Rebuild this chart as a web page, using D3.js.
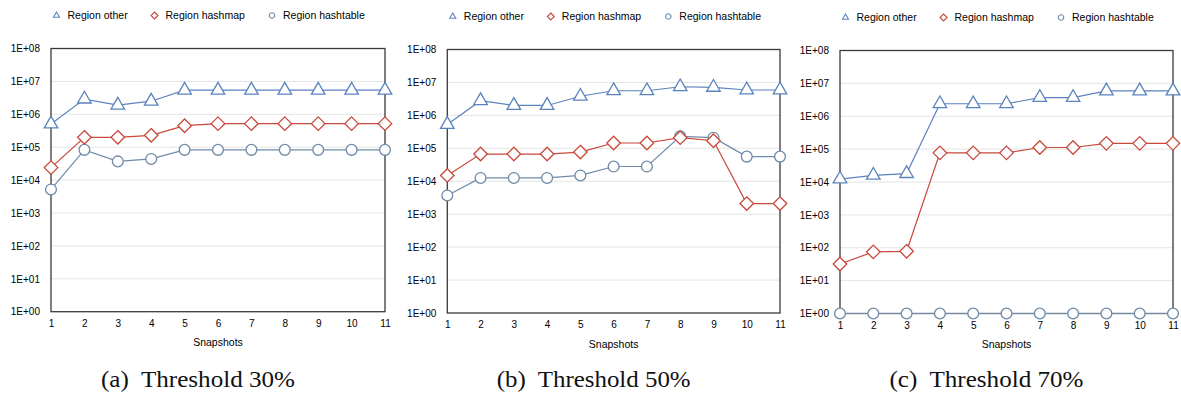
<!DOCTYPE html>
<html>
<head>
<meta charset="utf-8">
<script src="https://cdn.jsdelivr.net/npm/d3@7"></script>
<style>
  html, body { margin: 0; padding: 0; background: #fff; }
  svg { display: block; }
</style>
</head>
<body>
<svg id="chart" width="1181" height="394"></svg>
<script>
// Snapshot indices shared by all three panels
const snapshots = [1, 2, 3, 4, 5, 6, 7, 8, 9, 10, 11];
const yTicks = [1, 1e1, 1e2, 1e3, 1e4, 1e5, 1e6, 1e7, 1e8];
const yTickLabels = ["1E+00", "1E+01", "1E+02", "1E+03", "1E+04", "1E+05", "1E+06", "1E+07", "1E+08"];
const seriesNames = ["Region other", "Region hashmap", "Region hashtable"];
const captions = ["(a)  Threshold 30%", "(b)  Threshold 50%", "(c)  Threshold 70%"];
const xTitle = "Snapshots";

// Threshold 30%
const other30     = [5.1e5, 2.9e6, 1.9e6, 2.5e6, 5.4e6, 5.4e6, 5.4e6, 5.4e6, 5.4e6, 5.4e6, 5.4e6];
const hashmap30   = [2.4e4, 2.0e5, 2.0e5, 2.3e5, 4.5e5, 5.2e5, 5.2e5, 5.2e5, 5.2e5, 5.2e5, 5.2e5];
const hashtable30 = [5.2e3, 8.3e4, 3.7e4, 4.4e4, 8.3e4, 8.3e4, 8.3e4, 8.3e4, 8.3e4, 8.3e4, 8.3e4];

// Threshold 50%
const other50     = [5.3e5, 2.8e6, 2.0e6, 2.0e6, 3.8e6, 5.6e6, 5.6e6, 7.4e6, 7.1e6, 5.9e6, 5.9e6];
const hashmap50   = [1.5e4, 6.7e4, 6.7e4, 6.7e4, 7.7e4, 1.45e5, 1.45e5, 2.1e5, 1.7e5, 2.1e3, 2.1e3];
const hashtable50 = [3.7e3, 1.26e4, 1.26e4, 1.26e4, 1.5e4, 2.8e4, 2.8e4, 2.3e5, 2.1e5, 5.6e4, 5.6e4];

// Threshold 70%
const other70     = [1.23e4, 1.6e4, 1.8e4, 2.4e6, 2.4e6, 2.4e6, 3.7e6, 3.7e6, 5.9e6, 5.9e6, 5.9e6];
const hashmap70   = [32, 75, 78, 7.7e4, 7.7e4, 7.7e4, 1.12e5, 1.12e5, 1.5e5, 1.5e5, 1.5e5];
const hashtable70 = [1, 1, 1, 1, 1, 1, 1, 1, 1, 1, 1];

const panels = [
  { other: other30, hashmap: hashmap30, hashtable: hashtable30, caption: captions[0],
    box: { left: 51, right: 385, top: 48.5, bottom: 311.7 } },
  { other: other50, hashmap: hashmap50, hashtable: hashtable50, caption: captions[1],
    box: { left: 447.3, right: 780, top: 49.5, bottom: 313 } },
  { other: other70, hashmap: hashmap70, hashtable: hashtable70, caption: captions[2],
    box: { left: 840, right: 1173, top: 50.5, bottom: 313.5 } }
];

const colors = { other: "#5a83bd", hashmap: "#c8483a", hashtable: "#6e8aa8" };
const sans = "'Liberation Sans', Arial, Helvetica, sans-serif";
const serif = "'Liberation Serif', 'Times New Roman', serif";

const svg = d3.select("#chart");

// Marker shapes
function markerPath(kind, s) {
  if (kind === "other") {
    const h = s * Math.sqrt(3) / 2;
    return `M0,${-h * 2 / 3}L${s / 2},${h / 3}L${-s / 2},${h / 3}Z`;
  }
  if (kind === "hashmap") {
    const r = s / 2;
    return `M0,${-r}L${r},0L0,${r}L${-r},0Z`;
  }
  const r = s / 2;
  return `M${r},0A${r},${r} 0 1,1 ${-r},0A${r},${r} 0 1,1 ${r},0Z`;
}
const markerSize = { other: 13.5, hashmap: 13.5, hashtable: 10.8 };
const legendSize = { other: 6, hashmap: 7, hashtable: 5.5 };

panels.forEach(p => {
  const b = p.box;
  const g = svg.append("g");

  const x = d3.scaleLinear().domain([1, 11]).range([b.left, b.right]);
  const y = d3.scaleLog().domain([1, 1e8]).range([b.bottom, b.top]);

  // horizontal gridlines
  g.append("g").selectAll("line").data(yTicks.slice(1, -1)).join("line")
    .attr("x1", b.left).attr("x2", b.right)
    .attr("y1", d => y(d)).attr("y2", d => y(d))
    .attr("stroke", "#e4e4e4").attr("stroke-width", 1);

  // frame
  g.append("rect")
    .attr("x", b.left).attr("y", b.top)
    .attr("width", b.right - b.left).attr("height", b.bottom - b.top)
    .attr("fill", "none").attr("stroke", "#3a3a3a").attr("stroke-width", 1.3);

  // y axis labels
  const yAxis = d3.axisLeft(y).tickValues(yTicks)
    .tickFormat((d, i) => yTickLabels[i]).tickSize(0).tickPadding(11);
  const ya = g.append("g").attr("transform", `translate(${b.left},0)`).call(yAxis);
  ya.select(".domain").remove();
  ya.selectAll("text").attr("font-family", sans).attr("font-size", 10).attr("fill", "#000");

  // x axis labels
  const xAxis = d3.axisBottom(x).tickValues(snapshots).tickFormat(d3.format("d"))
    .tickSize(0).tickPadding(8);
  const xa = g.append("g").attr("transform", `translate(0,${b.bottom})`).call(xAxis);
  xa.select(".domain").remove();
  xa.selectAll("text").attr("font-family", sans).attr("font-size", 10).attr("fill", "#000");

  // x title
  g.append("text")
    .attr("x", (b.left + b.right) / 2).attr("y", b.bottom + 34.5)
    .attr("text-anchor", "middle")
    .attr("font-family", sans).attr("font-size", 10.5).attr("fill", "#000")
    .text(xTitle);

  // series: draw hashtable first so hashmap and other sit on top
  ["hashtable", "hashmap", "other"].forEach(key => {
    const vals = p[key];
    const pts = snapshots.map((s, i) => [x(s), y(vals[i])]);
    g.append("path")
      .attr("d", d3.line()(pts))
      .attr("fill", "none").attr("stroke", colors[key]).attr("stroke-width", 1.2);
    g.append("g").selectAll("path").data(pts).join("path")
      .attr("transform", d => `translate(${d[0]},${d[1]})`)
      .attr("d", markerPath(key, markerSize[key]))
      .attr("fill", "#fff").attr("stroke", colors[key]).attr("stroke-width", 1.3);
  });

  // legend
  const legendX = [b.left + 5.5, b.left + 103.5, b.left + 221];
  ["other", "hashmap", "hashtable"].forEach((key, i) => {
    const lg = g.append("g").attr("transform", `translate(${legendX[i]},${b.top - 33})`);
    lg.append("path").attr("d", markerPath(key, legendSize[key]))
      .attr("fill", "#fff").attr("stroke", colors[key]).attr("stroke-width", 1.1);
    lg.append("text").attr("x", 11).attr("y", 3.6)
      .attr("font-family", sans).attr("font-size", 10.5).attr("fill", "#000")
      .text(seriesNames[i]);
  });

  // caption
  g.append("text")
    .attr("x", (b.left + b.right) / 2 - 20).attr("y", 387)
    .attr("text-anchor", "middle")
    .attr("font-family", serif).attr("font-size", 22.5).attr("fill", "#111")
    .attr("textLength", 194).attr("lengthAdjust", "spacingAndGlyphs")
    .style("white-space", "pre")
    .text(p.caption);
});
</script>
</body>
</html>
